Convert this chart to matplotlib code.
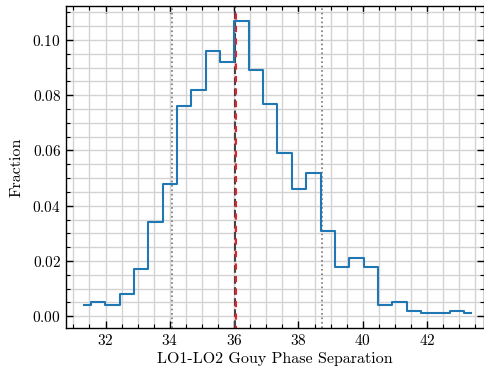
import matplotlib
matplotlib.use("Agg")
import matplotlib.pyplot as plt
from matplotlib.ticker import MultipleLocator

plt.rcParams.update({
    "font.family": "serif",
    "font.serif": ["cmr10", "DejaVu Serif"],
    "mathtext.fontset": "cm",
    "axes.formatter.use_mathtext": True,
    "font.size": 11.5,
    "xtick.direction": "in",
    "ytick.direction": "in",
    "xtick.top": True,
    "ytick.right": True,
})

# bin centres of the Gouy phase histogram
phase = [31.32, 31.77, 32.21, 32.66, 33.10, 33.55, 34.00, 34.44,
         34.89, 35.34, 35.78, 36.23, 36.68, 37.12, 37.57, 38.01,
         38.46, 38.91, 39.35, 39.80, 40.25, 40.69, 41.14, 41.58,
         42.03, 42.48, 42.92, 43.37]
fraction = [0.004, 0.005, 0.004, 0.008, 0.017, 0.034, 0.048, 0.076,
            0.082, 0.096, 0.092, 0.107, 0.089, 0.077, 0.059, 0.046,
            0.052, 0.031, 0.018, 0.021, 0.018, 0.004, 0.005, 0.002,
            0.001, 0.001, 0.002, 0.001]

lower_bound = 34.07
upper_bound = 38.72
median = 36.04
mean = 36.06

fig = plt.figure(figsize=(4.85, 3.75), dpi=100)
ax = fig.add_axes([0.136, 0.125, 0.862, 0.859])

ax.xaxis.set_major_locator(MultipleLocator(2))
ax.xaxis.set_minor_locator(MultipleLocator(0.5))
ax.yaxis.set_major_locator(MultipleLocator(0.02))
ax.yaxis.set_minor_locator(MultipleLocator(0.005))
ax.grid(True, which="both", color="#d3d3d3", linewidth=1.0, zorder=0)
ax.set_axisbelow(True)

ax.step(phase, fraction, where="mid", color="#1f77b4", linewidth=1.5, zorder=3)

ax.axvline(lower_bound, color="#777777", linestyle=":", linewidth=1.2, zorder=2)
ax.axvline(upper_bound, color="#777777", linestyle=":", linewidth=1.2, zorder=2)
ax.axvline(median, color="#444444", linestyle="--", linewidth=1.5, zorder=2)
ax.axvline(mean, color="#e8202a", linestyle=(2, (3, 3)), linewidth=1.5, zorder=2)

ax.set_xlim(30.77, 43.77)
ax.set_ylim(-0.0043, 0.1123)
ax.set_xlabel("LO1-LO2 Gouy Phase Separation", labelpad=3)
ax.set_ylabel("Fraction", labelpad=6)

ax.tick_params(which="major", length=5, width=1, labelsize=11)
ax.tick_params(which="minor", length=3, width=0.8)
for spine in ax.spines.values():
    spine.set_linewidth(1.0)

fig.savefig("out.png", dpi=100)
